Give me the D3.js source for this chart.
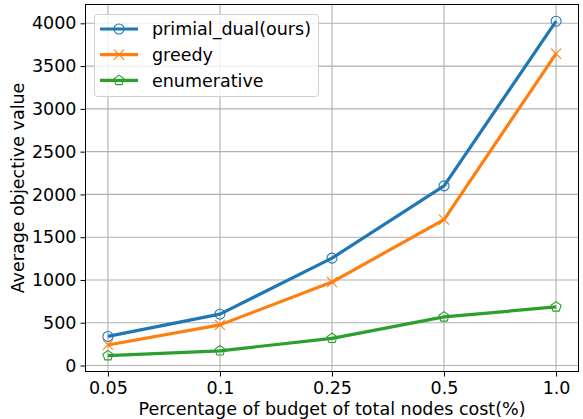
<!DOCTYPE html>
<html><head><meta charset="utf-8">
<script src="https://cdn.jsdelivr.net/npm/d3@7"></script>
<style>body{margin:0;background:#fff;}svg{display:block;font-family:"DejaVu Sans",sans-serif;}</style>
</head><body><svg id="c" width="583" height="419"></svg>
<script>
const categories = ["0.05", "0.1", "0.25", "0.5", "1.0"];
const primalDual = [340, 600, 1255, 2100, 4025];
const greedy = [240, 475, 975, 1705, 3645];
const enumerative = [115, 172, 318, 568, 685];
const yTicks = [0, 500, 1000, 1500, 2000, 2500, 3000, 3500, 4000];
const seriesNames = ["primial_dual(ours)", "greedy", "enumerative"];
const colors = ["#1f77b4", "#ff7f0e", "#2ca02c"];
const markers = ["circle", "x", "pentagon"];

const FS = 17.5;
const svg = d3.select("#c");
const L = 85.5, R = 578.5, T = 4.5, B = 371.5;
const x = d3.scaleLinear().domain([-0.2, 4.2]).range([L, R]);
const y = d3.scaleLinear().domain([-70, 4220]).range([B, T]);

// grid
const g = svg.append("g");
g.selectAll(".gx").data(categories).join("line")
  .attr("x1", (d,i)=>x(i)).attr("x2", (d,i)=>x(i)).attr("y1", T).attr("y2", B)
  .attr("stroke", "#b0b0b0").attr("stroke-width", 1.1);
g.selectAll(".gy").data(yTicks).join("line")
  .attr("x1", L).attr("x2", R).attr("y1", d=>y(d)).attr("y2", d=>y(d))
  .attr("stroke", "#b0b0b0").attr("stroke-width", 1.1);

// axes
const xAxis = d3.axisBottom(x).tickValues(d3.range(categories.length)).tickFormat(i=>categories[i]).tickSize(5).tickPadding(3);
const yAxis = d3.axisLeft(y).tickValues(yTicks).tickFormat(d3.format("d")).tickSize(5).tickPadding(4);
const ax = svg.append("g").attr("transform", `translate(0,${B})`).call(xAxis);
const ay = svg.append("g").attr("transform", `translate(${L},0)`).call(yAxis);
[ax, ay].forEach(a => {
  a.select(".domain").remove();
  a.selectAll("text").attr("font-size", FS).attr("fill", "#000").attr("font-family", "DejaVu Sans");
  a.selectAll("line").attr("stroke", "#000").attr("stroke-width", 1);
});
ax.selectAll("text").attr("dy", "0.8em");

// lines
const allSeries = [primalDual, greedy, enumerative];
const line = d3.line().x((d,i)=>x(i)).y(d=>y(d));
function drawMarker(sel, type, color, size) {
  if (type === "circle") {
    sel.append("circle").attr("r", size).attr("fill", "none").attr("stroke", color).attr("stroke-width", 1.1);
  } else if (type === "x") {
    sel.append("path").attr("d", `M${-size},${-size}L${size},${size}M${-size},${size}L${size},${-size}`)
      .attr("stroke", color).attr("stroke-width", 1.1).attr("fill", "none");
  } else {
    const pts = d3.range(5).map(k => {
      const a = -Math.PI/2 + k*2*Math.PI/5;
      return [size*1.05*Math.cos(a), size*1.05*Math.sin(a)];
    });
    sel.append("path").attr("d", "M" + pts.join("L") + "Z").attr("fill", "none")
      .attr("stroke", color).attr("stroke-width", 1.1);
  }
}
allSeries.forEach((vals, s) => {
  svg.append("path").datum(vals).attr("d", line).attr("fill", "none")
    .attr("stroke", colors[s]).attr("stroke-width", 3.2).attr("stroke-linejoin", "round");
  vals.forEach((v, i) => {
    const m = svg.append("g").attr("transform", `translate(${x(i)},${y(v)})`);
    drawMarker(m, markers[s], colors[s], 5);
  });
});

// frame
svg.append("rect").attr("x", L).attr("y", T).attr("width", R-L).attr("height", B-T)
  .attr("fill", "none").attr("stroke", "#000").attr("stroke-width", 1);

// legend
const lg = svg.append("g");
lg.append("rect").attr("x", 94.5).attr("y", 14.5).attr("width", 224).attr("height", 82).attr("rx", 3)
  .attr("fill", "#fff").attr("fill-opacity", 0.8).attr("stroke", "#d0d0d0").attr("stroke-width", 1);
seriesNames.forEach((name, s) => {
  const yy = 29 + s*25.7;
  lg.append("line").attr("x1", 100).attr("x2", 138).attr("y1", yy).attr("y2", yy)
    .attr("stroke", colors[s]).attr("stroke-width", 3.2);
  const m = lg.append("g").attr("transform", `translate(119,${yy})`);
  drawMarker(m, markers[s], colors[s], 5);
  lg.append("text").attr("x", 152).attr("y", yy).attr("dy", "0.35em").attr("font-size", FS).text(name);
});

// labels
svg.append("text").attr("x", (L+R)/2 - 0).attr("y", 415).attr("text-anchor", "middle").attr("font-size", FS)
  .text("Percentage of budget of total nodes cost(%)");
svg.append("text").attr("transform", `translate(24,${(T+B)/2}) rotate(-90)`).attr("text-anchor", "middle").attr("font-size", FS)
  .text("Average objective value");
</script></body></html>
